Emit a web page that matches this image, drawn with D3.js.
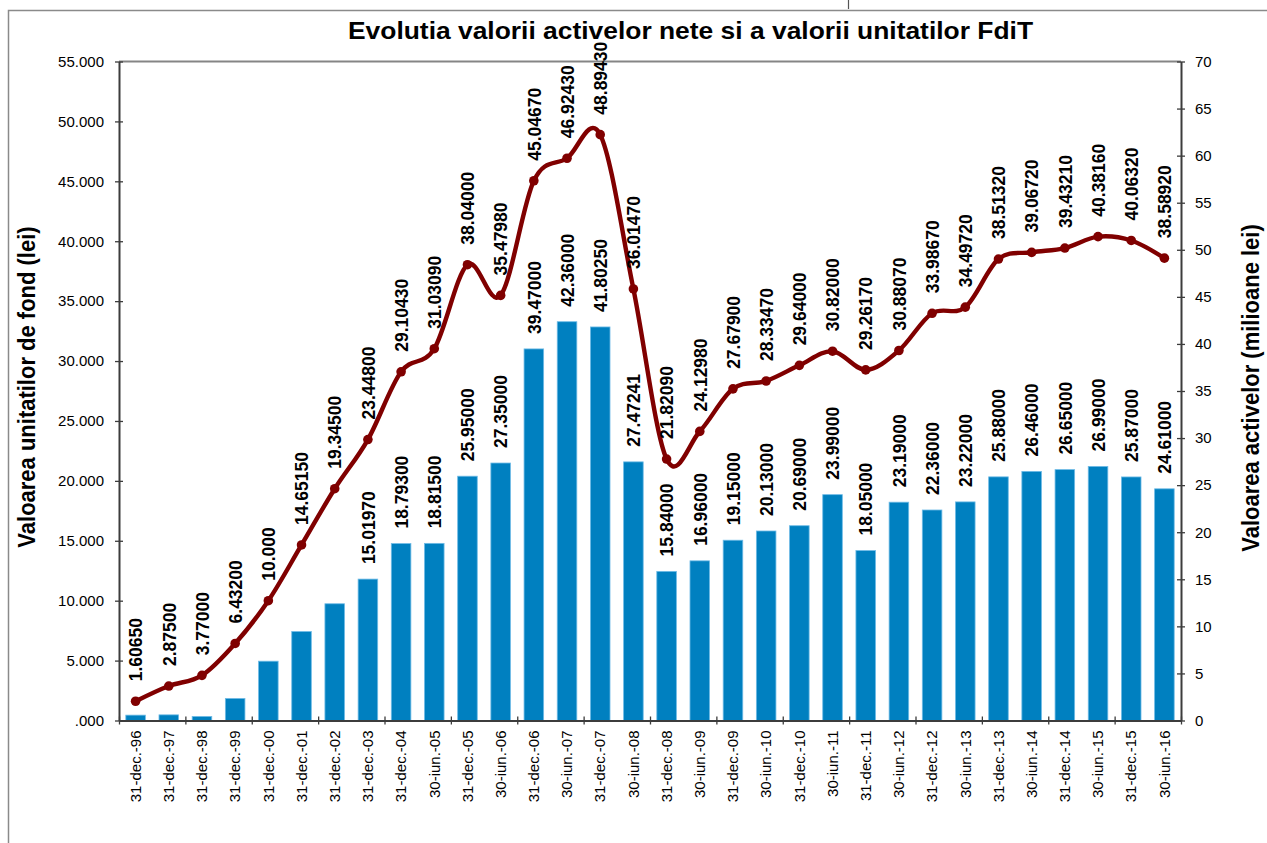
<!DOCTYPE html>
<html lang="ro">
<head>
<meta charset="UTF-8">
<title>Evolutia valorii activelor nete si a valorii unitatilor FdiT</title>
<script src="https://d3js.org/d3.v7.min.js"></script>
<style>
    body {
        margin: 0;
        background-color: #fff;
    }

    #chart svg {
        display: block;
        font-family: Arial, "Liberation Sans", sans-serif;
    }
</style>
</head>
<body>
<div id="chart"></div>
<script>
    // data
    const categories = ["31-dec.-96", "31-dec.-97", "31-dec.-98", "31-dec.-99", "31-dec.-00", "31-dec.-01",
        "31-dec.-02", "31-dec.-03", "31-dec.-04", "30-iun.-05", "31-dec.-05", "30-iun.-06", "31-dec.-06",
        "30-iun.-07", "31-dec.-07", "30-iun.-08", "31-dec.-08", "30-iun.-09", "31-dec.-09", "30-iun.-10",
        "31-dec.-10", "30-iun.-11", "31-dec.-11", "30-iun.-12", "31-dec.-12", "30-iun.-13", "31-dec.-13",
        "30-iun.-14", "31-dec.-14", "30-iun.-15", "31-dec.-15", "30-iun.-16"];

    // valoarea unitatii de fond (lei) - line, left axis
    const unitValues = [1.6065, 2.875, 3.77, 6.432, 10.0, 14.6515, 19.345, 23.448, 29.1043, 31.0309,
        38.04, 35.4798, 45.0467, 46.9243, 48.8943, 36.0147, 21.8209, 24.1298, 27.679, 28.3347,
        29.64, 30.82, 29.2617, 30.8807, 33.9867, 34.4972, 38.5132, 39.0672, 39.4321, 40.3816,
        40.0632, 38.5892];
    const unitLabels = ["1.60650", "2.87500", "3.77000", "6.43200", "10.000", "14.65150", "19.34500",
        "23.44800", "29.10430", "31.03090", "38.04000", "35.47980", "45.04670", "46.92430", "48.89430",
        "36.01470", "21.82090", "24.12980", "27.67900", "28.33470", "29.64000", "30.82000", "29.26170",
        "30.88070", "33.98670", "34.49720", "38.51320", "39.06720", "39.43210", "40.38160", "40.06320",
        "38.58920"];

    // valoarea activelor (milioane lei) - bars, right axis
    const assetValues = [0.57, 0.6, 0.43, 2.34, 6.3, 9.45, 12.4, 15.0197, 18.793, 18.815, 25.95, 27.35,
        39.47, 42.36, 41.8025, 27.47241, 15.84, 16.96, 19.15, 20.13, 20.69, 23.99, 18.05, 23.19,
        22.36, 23.22, 25.88, 26.46, 26.65, 26.99, 25.87, 24.61];
    const assetLabels = ["", "", "", "", "", "", "", "15.01970", "18.79300", "18.81500", "25.95000",
        "27.35000", "39.47000", "42.36000", "41.80250", "27.47241", "15.84000", "16.96000", "19.15000",
        "20.13000", "20.69000", "23.99000", "18.05000", "23.19000", "22.36000", "23.22000", "25.88000",
        "26.46000", "26.65000", "26.99000", "25.87000", "24.61000"];

    const leftTicks = [0, 5, 10, 15, 20, 25, 30, 35, 40, 45, 50, 55];
    const rightTicks = [0, 5, 10, 15, 20, 25, 30, 35, 40, 45, 50, 55, 60, 65, 70];

    const width = 1267;
    const height = 843;
    const plot = { left: 119, right: 1181, top: 61.5, bottom: 720.5 };
    const axisColor = "#3c3c3c";
    const stretch = "scale(1.1,1)"; // the original picture is a bit wider than tall

    const svg = d3.select("#chart")
        .append("svg")
        .attr("width", width)
        .attr("height", height);

    svg.append("rect")
        .attr("width", width)
        .attr("height", height)
        .attr("fill", "#fff");

    // outer chart frame
    svg.append("rect")
        .attr("x", 8.5)
        .attr("y", 10.5)
        .attr("width", 1320)
        .attr("height", 900)
        .attr("fill", "none")
        .attr("stroke", "#8a8a8a")
        .attr("stroke-width", 1.5);

    svg.append("line")
        .attr("x1", 848.5).attr("x2", 848.5)
        .attr("y1", 0).attr("y2", 9)
        .attr("stroke", "#555")
        .attr("stroke-width", 1.2);

    const x = d3.scaleBand()
        .domain(categories)
        .range([plot.left, plot.right])
        .padding(0);
    const barWidth = x.bandwidth() * 0.59;
    const cx = d => x(d) + x.bandwidth() / 2;

    const yLeft = d3.scaleLinear()
        .domain([0, 55])
        .range([plot.bottom, plot.top]);
    const yRight = d3.scaleLinear()
        .domain([0, 70])
        .range([plot.bottom, plot.top]);

    // bars
    svg.selectAll(".bar")
        .data(categories)
        .enter()
        .append("rect")
        .attr("class", "bar")
        .attr("x", d => x(d) + (x.bandwidth() - barWidth) / 2)
        .attr("y", (d, i) => yRight(assetValues[i]))
        .attr("width", barWidth)
        .attr("height", (d, i) => plot.bottom - yRight(assetValues[i]))
        .attr("fill", "#0080c0")
        .attr("stroke", "#6fbbe6")
        .attr("stroke-width", 0.8);

    // top border of the plot area
    svg.append("line")
        .attr("x1", plot.left).attr("x2", plot.right)
        .attr("y1", plot.top).attr("y2", plot.top)
        .attr("stroke", "#858585")
        .attr("stroke-width", 2);

    // line
    const line = d3.line()
        .x((d, i) => cx(categories[i]))
        .y(d => yLeft(d))
        .curve(d3.curveCatmullRom.alpha(0));

    svg.append("path")
        .datum(unitValues)
        .attr("d", line)
        .attr("fill", "none")
        .attr("stroke", "#800000")
        .attr("stroke-width", 4.4)
        .attr("stroke-linejoin", "round")
        .attr("stroke-linecap", "round");

    svg.selectAll(".dot")
        .data(unitValues)
        .enter()
        .append("circle")
        .attr("class", "dot")
        .attr("cx", (d, i) => cx(categories[i]))
        .attr("cy", d => yLeft(d))
        .attr("r", 4.8)
        .attr("fill", "#800000");

    // axes
    const leftAxis = svg.append("g")
        .attr("transform", `translate(${plot.left},0)`)
        .call(d3.axisLeft(yLeft)
            .tickValues(leftTicks)
            .tickSizeInner(4)
            .tickSizeOuter(0)
            .tickPadding(11)
            .tickFormat(d => d3.format(".3f")(d).replace(/^0\./, ".")));

    const rightAxis = svg.append("g")
        .attr("transform", `translate(${plot.right},0)`)
        .call(d3.axisRight(yRight)
            .tickValues(rightTicks)
            .tickSizeInner(4)
            .tickSizeOuter(0)
            .tickPadding(10));

    const tickIdx = d3.scaleLinear()
        .domain([0, categories.length])
        .range([plot.left, plot.right]);
    const bottomTicks = svg.append("g")
        .attr("transform", `translate(0,${plot.bottom})`)
        .call(d3.axisBottom(tickIdx)
            .tickValues(d3.range(0, categories.length + 1, 2))
            .tickSizeInner(4)
            .tickSizeOuter(0)
            .tickFormat(""));
    bottomTicks.selectAll(".tick line").attr("y1", -4);

    const bottomAxis = svg.append("g")
        .attr("transform", `translate(0,${plot.bottom})`)
        .call(d3.axisBottom(x).tickSize(0));
    bottomAxis.select(".domain").remove();
    bottomAxis.selectAll("text")
        .attr("x", -10)
        .attr("y", 0)
        .attr("dy", "0.35em")
        .attr("transform", "rotate(-90)")
        .style("text-anchor", "end");

    leftAxis.selectAll(".tick line").attr("x1", 4);
    rightAxis.selectAll(".tick line").attr("x1", -4);

    [leftAxis, rightAxis, bottomTicks, bottomAxis].forEach(function (g) {
        g.select(".domain").attr("stroke", axisColor).attr("stroke-width", 2);
        g.selectAll(".tick line").attr("stroke", axisColor).attr("stroke-width", 1.3);
        g.selectAll("text")
            .attr("fill", "#000")
            .style("font-size", "15px")
            .style("font-family", "Arial, 'Liberation Sans', sans-serif");
    });

    // data labels
    svg.selectAll(".barLabel")
        .data(categories)
        .enter()
        .append("text")
        .attr("class", "barLabel")
        .attr("transform", (d, i) => `translate(${cx(d)},${yRight(assetValues[i]) - 15}) ${stretch} rotate(-90)`)
        .attr("dy", "0.35em")
        .attr("text-anchor", "start")
        .style("font-size", "17.5px")
        .style("font-weight", "bold")
        .text((d, i) => assetLabels[i]);

    svg.selectAll(".lineLabel")
        .data(categories)
        .enter()
        .append("text")
        .attr("class", "lineLabel")
        .attr("transform", (d, i) => `translate(${cx(d)},${yLeft(unitValues[i]) - 20}) ${stretch} rotate(-90)`)
        .attr("dy", "0.35em")
        .attr("text-anchor", "start")
        .style("font-size", "17.5px")
        .style("font-weight", "bold")
        .text((d, i) => unitLabels[i]);

    // titles
    svg.append("text")
        .attr("x", 690.5)
        .attr("y", 39)
        .attr("text-anchor", "middle")
        .attr("textLength", 685)
        .attr("lengthAdjust", "spacingAndGlyphs")
        .style("font-size", "24px")
        .style("font-weight", "bold")
        .text("Evolutia valorii activelor nete si a valorii unitatilor FdiT");

    svg.append("text")
        .attr("transform", `translate(27,387) ${stretch} rotate(-90)`)
        .attr("dy", "0.35em")
        .attr("text-anchor", "middle")
        .style("font-size", "22px")
        .style("font-weight", "bold")
        .text("Valoarea unitatilor de fond (lei)");

    svg.append("text")
        .attr("transform", `translate(1251,388) ${stretch} rotate(-90)`)
        .attr("dy", "0.35em")
        .attr("text-anchor", "middle")
        .style("font-size", "22px")
        .style("font-weight", "bold")
        .text("Valoarea activelor (milioane lei)");
</script>
</body>
</html>
